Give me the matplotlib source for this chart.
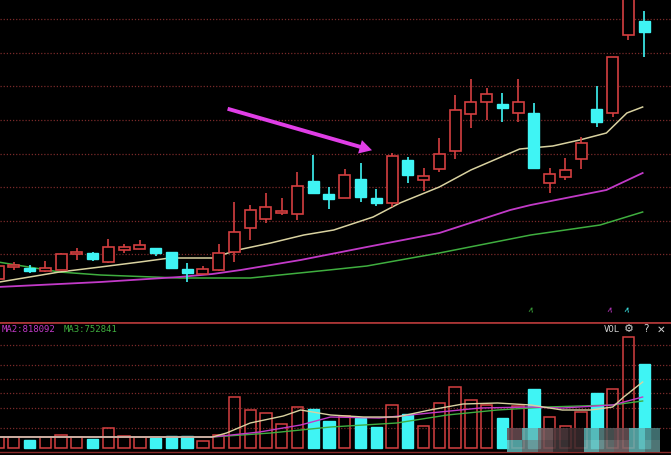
import numpy as np
import matplotlib.pyplot as plt
from matplotlib.patches import Rectangle

# ---- daily candles (price units), index 0..41
opens = [3.55, 4.15, 4.10, 3.95, 4.00, 4.80, 4.85, 4.40, 5.00, 5.05,
         5.10, 4.90, 4.05, 3.80, 4.00, 4.90, 6.10, 6.55, 6.85, 6.80,
         8.45, 7.80, 7.60, 8.55, 7.60, 7.35, 9.50, 8.50, 9.05, 9.95,
         11.80, 12.40, 12.30, 11.85, 11.85, 8.35, 8.65, 9.55, 12.05, 11.85,
         15.75, 16.45]
closes = [4.20, 4.25, 3.95, 4.10, 4.80, 4.90, 4.55, 5.15, 5.15, 5.25,
          4.85, 4.10, 3.85, 4.05, 4.85, 5.90, 7.00, 7.15, 6.95, 8.20,
          7.85, 7.55, 8.75, 7.65, 7.35, 9.70, 8.75, 8.70, 9.80, 12.00,
          12.40, 12.80, 12.10, 12.40, 9.10, 8.80, 9.00, 10.35, 11.40, 14.65,
          18.50, 15.90]
highs = [4.30, 4.40, 4.25, 4.45, 4.85, 5.10, 4.90, 5.55, 5.30, 5.50,
         5.10, 4.90, 4.35, 4.20, 5.30, 7.40, 7.25, 7.85, 7.60, 8.90,
         9.75, 8.15, 9.05, 9.35, 8.05, 9.85, 9.65, 9.10, 10.60, 12.75,
         13.55, 13.10, 12.85, 13.55, 12.35, 9.10, 9.60, 10.65, 13.20, 14.65,
         18.50, 16.95]
lows = [3.45, 4.00, 3.85, 3.90, 4.00, 4.50, 4.45, 4.35, 4.85, 5.05,
        4.70, 4.10, 3.40, 3.80, 3.95, 4.40, 5.50, 6.35, 6.75, 6.50,
        7.85, 7.05, 7.60, 7.40, 7.20, 7.15, 8.35, 7.95, 8.90, 9.55,
        11.10, 11.50, 11.40, 11.40, 9.10, 7.85, 8.50, 9.05, 11.15, 11.65,
        15.50, 14.65]
# volume in thousands of shares
volumes = [176, 176, 128, 176, 208, 176, 144, 320, 192, 176,
           160, 192, 192, 112, 208, 816, 608, 560, 384, 656,
           624, 432, 512, 480, 336, 688, 544, 352, 720, 976,
           768, 688, 480, 672, 944, 496, 352, 576, 880, 944,
           1776, 1344]

# price moving averages (index, value)
ma1_x = [0.1, 3.9, 6.5, 9.0, 10.9, 13.6, 15.2, 17.3, 19.4, 21.3, 23.8, 25.5, 28.0, 30.0, 33.1, 35.2, 36.9, 38.6, 39.9, 40.9]
ma1_y = [3.40, 3.90, 4.15, 4.40, 4.60, 4.60, 5.00, 5.35, 5.75, 6.00, 6.65, 7.35, 8.15, 9.00, 10.05, 10.20, 10.50, 10.85, 11.85, 12.15]
ma2_x = [0.0, 6.5, 11.5, 13.6, 15.4, 19.2, 23.4, 28.0, 32.5, 33.8, 38.6, 40.9]
ma2_y = [3.15, 3.40, 3.65, 3.80, 4.00, 4.50, 5.15, 5.85, 7.00, 7.25, 8.00, 8.85]
ma3_x = [0.0, 3.9, 6.5, 11.5, 16.0, 21.0, 23.4, 28.0, 33.8, 38.2, 40.9]
ma3_y = [4.40, 3.90, 3.75, 3.60, 3.60, 4.00, 4.20, 4.85, 5.75, 6.25, 6.90]

# volume moving averages (index, thousands)
vma1_x = [0.1, 13.6, 14.5, 16.0, 18.1, 19.2, 21.1, 23.2, 25.3, 27.4, 29.5, 31.7, 33.8, 35.8, 37.6, 39.0, 39.7, 40.9]
vma1_y = [176, 176, 240, 400, 512, 608, 528, 496, 496, 608, 704, 720, 688, 608, 608, 656, 816, 1056]
vma2_x = [0.1, 13.6, 16.6, 19.2, 21.1, 24.2, 27.4, 30.6, 33.8, 35.8, 39.0, 40.9]
vma2_y = [176, 176, 256, 368, 496, 480, 560, 640, 656, 640, 688, 816]
vma3_x = [0.1, 13.6, 17.3, 21.1, 25.3, 28.5, 31.7, 34.8, 39.0, 40.9]
vma3_y = [176, 176, 240, 336, 400, 528, 608, 656, 688, 752]

price_grid = [16.55, 14.875, 13.2, 11.5, 9.825, 8.15, 6.475, 4.8]
vol_grid = [1648, 1328, 1104, 880, 640, 320]

RED = '#d43f40'
CYAN = '#3ff4f4'
GRID = '#7a2a2a'
C_MA1 = '#d9d2a0'
C_MA2 = '#c23ac8'
C_MA3 = '#3fae3f'


def draw_candles(ax):
    w = 0.7
    for i in range(len(opens)):
        o, c, h, l = opens[i], closes[i], highs[i], lows[i]
        lo, hi = min(o, c), max(o, c)
        if c >= o:
            ax.vlines(i, hi, h, color=RED, lw=1.2, zorder=3)
            ax.vlines(i, l, lo, color=RED, lw=1.2, zorder=3)
            ax.add_patch(Rectangle((i - w / 2, lo), w, max(hi - lo, 0.04),
                                   facecolor='black', edgecolor=RED, lw=1.2, zorder=3))
        else:
            ax.vlines(i, l, h, color=CYAN, lw=1.2, zorder=3)
            ax.add_patch(Rectangle((i - w / 2, lo), w, max(hi - lo, 0.04),
                                   facecolor=CYAN, edgecolor=CYAN, lw=1, zorder=3))


def main():
    fig = plt.figure(figsize=(6.71, 4.55), dpi=100, facecolor='black')
    xlim = (0.127, 42.7)

    ### main panel
    ax = fig.add_axes([0, 133 / 455, 1, 322 / 455])
    ax.set_facecolor('black')
    ax.set_xlim(*xlim)
    ax.set_ylim(1.40, 17.5)
    for g in price_grid:
        ax.axhline(g, color=GRID, lw=0.9, ls=(0, (1, 1.5)), zorder=1)
    ax.plot(ma3_x, ma3_y, color=C_MA3, lw=1.1, zorder=2)
    ax.plot(ma2_x, ma2_y, color=C_MA2, lw=1.3, zorder=2)
    ax.plot(ma1_x, ma1_y, color=C_MA1, lw=1.1, zorder=2)
    draw_candles(ax)

    # arrow
    ax.annotate('', xy=(23.9, 9.95), xytext=(14.4, 12.1),
                arrowprops=dict(arrowstyle='simple,head_length=0.9,head_width=1.0,tail_width=0.28',
                                color='#e03ee6', lw=0), zorder=5)
    # small signal marks
    for xm, col in [(33.8, C_MA3), (38.8, C_MA2), (39.85, CYAN)]:
        ax.text(xm, 2.0, r'$\wedge$', color=col, fontsize=6, ha='center', va='center',
                rotation=-15)
    ax.axis('off')

    ### volume panel
    axv = fig.add_axes([0, 0, 1, 133 / 455])
    axv.set_facecolor('black')
    axv.set_xlim(*xlim)
    axv.set_ylim(-112, 2016)
    for g in vol_grid:
        axv.axhline(g, color=GRID, lw=0.9, ls=(0, (1, 1.5)), zorder=1)
    axv.axhline(2016, color='#a83535', lw=2, zorder=2)
    axv.axhline(-70, color='#8a2a2a', lw=1, zorder=2)
    bw = 0.72
    for i, v in enumerate(volumes):
        if closes[i] >= opens[i]:
            axv.add_patch(Rectangle((i - bw / 2, 0), bw, v, facecolor='none',
                                    edgecolor=RED, lw=1.1, zorder=3))
        else:
            axv.add_patch(Rectangle((i - bw / 2, 0), bw, v, facecolor=CYAN,
                                    edgecolor=CYAN, lw=1, zorder=3))
    axv.plot(vma3_x, vma3_y, color=C_MA3, lw=1.0, zorder=4)
    axv.plot(vma2_x, vma2_y, color=C_MA2, lw=1.0, zorder=4)
    axv.plot(vma1_x, vma1_y, color=C_MA1, lw=1.0, zorder=4)

    axv.text(0.002, 0.945, 'MA2:818092', color=C_MA2, fontsize=6.5,
             transform=axv.transAxes, va='center', family='DejaVu Sans Mono')
    axv.text(0.095, 0.945, 'MA3:752841', color=C_MA3, fontsize=6.5,
             transform=axv.transAxes, va='center', family='DejaVu Sans Mono')
    axv.text(0.90, 0.945, 'VOL', color='#d0d0d0', fontsize=6.5,
             transform=axv.transAxes, va='center', family='DejaVu Sans Mono')
    axv.text(0.930, 0.945, '\u2699', color='#d0d0d0', fontsize=8,
             transform=axv.transAxes, va='center', family=['DejaVu Sans'])
    axv.text(0.958, 0.945, '?', color='#d0d0d0', fontsize=7.5,
             transform=axv.transAxes, va='center')
    axv.text(0.978, 0.945, '\u2715', color='#d0d0d0', fontsize=7.5,
             transform=axv.transAxes, va='center', family=['DejaVu Sans'])

    # watermark mosaic at bottom right
    mosaic = [['#6a4c52', '#5fb8b8', '#7a6063', '#4e3a3e', '#3a2c2e', '#58b0b0', '#4f5a5a', '#6a5458', '#5cb6b6', '#4a7f80'],
              ['#5fb8b8', '#6e8a8c', '#6d5559', '#43393b', '#382b2d', '#6cbaba', '#6d7a7a', '#7b6a6d', '#63b2b2', '#5c8a8a']]
    cw, ch = 15.3 / 671, 12 / 133
    for r, row in enumerate(mosaic):
        for c, col in enumerate(row):
            axv.add_patch(Rectangle((507 / 671 + c * cw, 15 / 133 - r * ch), cw, ch,
                                    transform=axv.transAxes, facecolor=col,
                                    edgecolor='none', zorder=6, alpha=0.85))
    axv.axis('off')

    fig.savefig('out.png', dpi=100, facecolor='black')


if __name__ == '__main__':
    main()
